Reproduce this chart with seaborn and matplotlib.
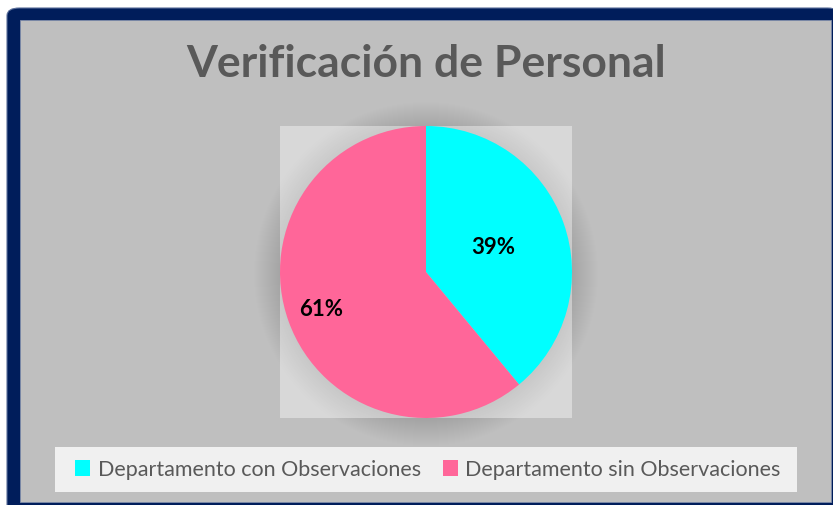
"""
Pie chart: Verificacion de Personal
"""
import numpy as np
import seaborn as sns
from matplotlib import pyplot as plt
from matplotlib.patches import FancyBboxPatch, Rectangle, Ellipse, Patch

categories = ['Departamento con Observaciones', 'Departamento sin Observaciones']
values = [39, 61]
colors = ['#00FFFF', '#FF6699']
label_dist = [0.49, 0.76]

W, H = 833, 505

sns.set_style('white')
plt.rcParams['font.family'] = ['Lato', 'DejaVu Sans']


def fx(px):
    return px / W


def fy(py):
    return 1 - py / H


fig = plt.figure(figsize=(W / 100, H / 100), dpi=100, facecolor='white')

# navy frame and gray panel
fig.patches.append(FancyBboxPatch(
    (fx(7), fy(505) - 0.02), fx(840) - fx(7), fy(8) - fy(505) + 0.02,
    boxstyle='round,pad=0,rounding_size=0.015', transform=fig.transFigure,
    facecolor='#001D5B', edgecolor='#5A6E9A', linewidth=0.8, zorder=0))
fig.patches.append(Rectangle(
    (fx(20), fy(502)), fx(831) - fx(20), fy(20) - fy(502),
    transform=fig.transFigure, facecolor='#BFBFBF', edgecolor='#7F8CAA',
    linewidth=0.6, zorder=1))

# blurred shadow of the pie
for k in range(26, 0, -1):
    d = 2 * (146 + k)
    fig.patches.append(Ellipse(
        (fx(426), fy(274)), fx(d), fy(0) - fy(d),
        transform=fig.transFigure, facecolor='black', edgecolor='none',
        alpha=0.0045, zorder=2))

fig.text(fx(426), fy(64), 'Verificación de Personal', ha='center', va='center',
         fontsize=32, fontweight='bold', color='#595959')

ax = fig.add_axes([fx(280), fy(418), fx(292), fy(0) - fy(292)], zorder=5)
wedges, _ = ax.pie(values, colors=colors, startangle=90, counterclock=False,
                   radius=1, wedgeprops={'linewidth': 0})
ax.set_frame_on(True)
ax.patch.set_facecolor('white')
ax.patch.set_alpha(0.4)
ax.set_xlim(-1, 1)
ax.set_ylim(-1, 1)
ax.set_aspect('auto')
for s in ax.spines.values():
    s.set_visible(False)
ax.set_xticks([])
ax.set_yticks([])

for w, v, d in zip(wedges, values, label_dist):
    ang = np.deg2rad((w.theta1 + w.theta2) / 2)
    ax.text(d * np.cos(ang), d * np.sin(ang), f'{v}%', ha='center',
            va='center', fontsize=16, fontweight='bold', color='black')

# legend
fig.patches.append(Rectangle(
    (fx(55), fy(492)), fx(797) - fx(55), fy(447) - fy(492),
    transform=fig.transFigure, facecolor='#F0F0F0', edgecolor='none', zorder=3))
handles = [Patch(facecolor=c, edgecolor='none') for c in colors]
leg = fig.legend(handles, categories, loc='center', ncol=2,
                 bbox_to_anchor=(fx(428), fy(469.5)), frameon=False,
                 handlelength=0.7, handleheight=0.7, handletextpad=0.35,
                 columnspacing=1.0, prop={'size': 15.5}, labelcolor='#595959')
leg.set_zorder(6)

fig.savefig('out.png', dpi=100, facecolor='white')
